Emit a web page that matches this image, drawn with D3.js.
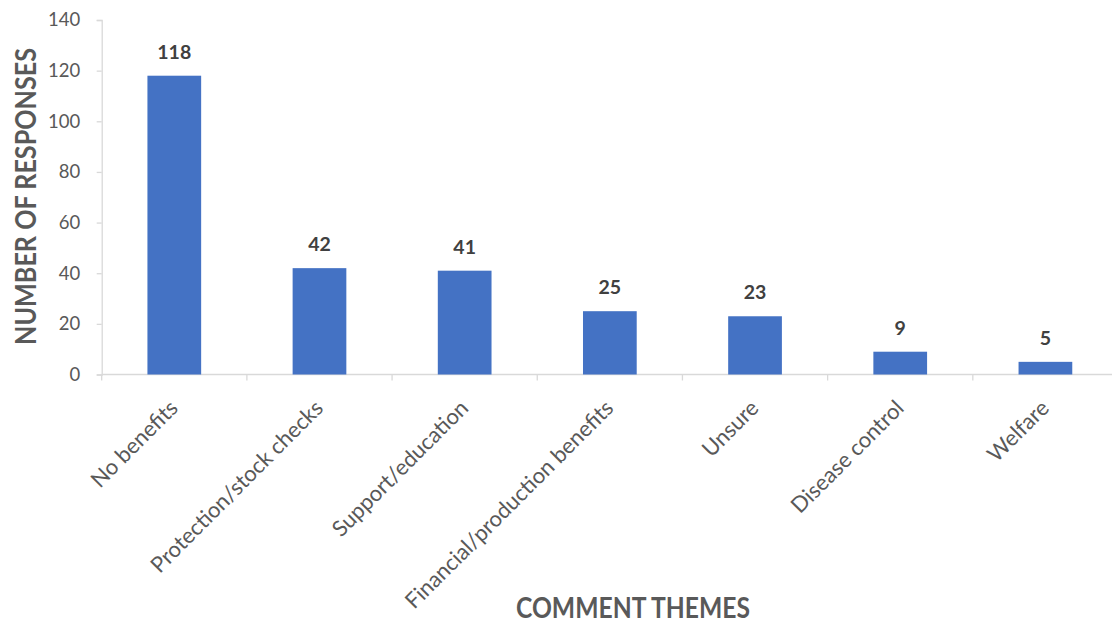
<!DOCTYPE html>
<html>
<head>
<meta charset="utf-8">
<script src="https://cdn.jsdelivr.net/npm/d3@7"></script>
<style>
  html, body { margin: 0; padding: 0; background: #fff; }
  svg { display: block; }
</style>
</head>
<body>
<svg id="chart" width="1112" height="624"></svg>
<script>
// Survey comment themes and the number of responses in each
const themes = ["No benefits", "Protection/stock checks", "Support/education",
                "Financial/production benefits", "Unsure", "Disease control", "Welfare"];
const responses = [118, 42, 41, 25, 23, 9, 5];
const yTicks = [0, 20, 40, 60, 80, 100, 120, 140];

const svg = d3.select("#chart");
const font = "Lato, 'Open Sans', 'Liberation Sans', sans-serif";
const textGrey = "#595959";
const lineGrey = "#d9d9d9";

const plotLeft = 101.7, plotRight = 1118, plotTop = 20, plotBottom = 374.5;

const x = d3.scaleBand().domain(themes).range([plotLeft, plotRight]).paddingInner(0.63).paddingOuter(0.315);
const y = d3.scaleLinear().domain([0, 140]).range([plotBottom, plotTop]);

// Y axis
const yAxis = svg.append("g")
  .attr("transform", `translate(${plotLeft},0)`)
  .call(d3.axisLeft(y).tickValues(yTicks).tickSize(5).tickPadding(16.5));
yAxis.select(".domain").attr("stroke", lineGrey).attr("stroke-width", 1.3);
yAxis.selectAll(".tick line").attr("stroke", lineGrey).attr("stroke-width", 1.3);
yAxis.selectAll(".tick text")
  .attr("fill", textGrey).style("font-family", font).style("font-size", "18.5px");

// X axis with category boundary ticks
const boundaries = d3.range(themes.length + 1).map(i => plotLeft + i * x.step());
const xAxis = svg.append("g");
xAxis.append("line")
  .attr("x1", plotLeft).attr("x2", plotRight).attr("y1", plotBottom).attr("y2", plotBottom)
  .attr("stroke", lineGrey).attr("stroke-width", 1.3);
xAxis.selectAll("line.bound").data(boundaries).join("line")
  .attr("class", "bound")
  .attr("x1", d => d).attr("x2", d => d)
  .attr("y1", plotBottom).attr("y2", plotBottom + 6)
  .attr("stroke", lineGrey).attr("stroke-width", 1.3);

// Bars
svg.selectAll("rect.bar").data(responses).join("rect")
  .attr("class", "bar")
  .attr("x", (d, i) => x(themes[i]))
  .attr("width", x.bandwidth())
  .attr("y", d => y(d))
  .attr("height", d => plotBottom - y(d))
  .attr("fill", "#4472C4");

// Value labels
svg.selectAll("text.value").data(responses).join("text")
  .attr("class", "value")
  .attr("x", (d, i) => x(themes[i]) + x.bandwidth() / 2)
  .attr("y", d => y(d) - 17)
  .attr("text-anchor", "middle")
  .attr("fill", "#404040")
  .style("font-family", font).style("font-weight", "bold").style("font-size", "19.5px")
  .text(d => d);

// Rotated category labels
svg.selectAll("text.cat").data(themes).join("text")
  .attr("class", "cat")
  .attr("transform", d => `translate(${x(d) + x.bandwidth() / 2 + 5},${plotBottom + 35}) rotate(-45)`)
  .attr("text-anchor", "end")
  .attr("fill", textGrey)
  .style("font-family", font).style("font-size", "22px")
  .text(d => d);

// Axis titles
svg.append("text")
  .attr("transform", `translate(36,196.5) rotate(-90)`)
  .attr("text-anchor", "middle")
  .attr("fill", textGrey)
  .attr("textLength", 297).attr("lengthAdjust", "spacingAndGlyphs")
  .style("font-family", font).style("font-weight", "bold").style("font-size", "28px")
  .text("NUMBER OF RESPONSES");

svg.append("text")
  .attr("x", 633).attr("y", 618)
  .attr("text-anchor", "middle")
  .attr("fill", textGrey)
  .attr("textLength", 234).attr("lengthAdjust", "spacingAndGlyphs")
  .style("font-family", font).style("font-weight", "bold").style("font-size", "28px")
  .text("COMMENT THEMES");
</script>
</body>
</html>
